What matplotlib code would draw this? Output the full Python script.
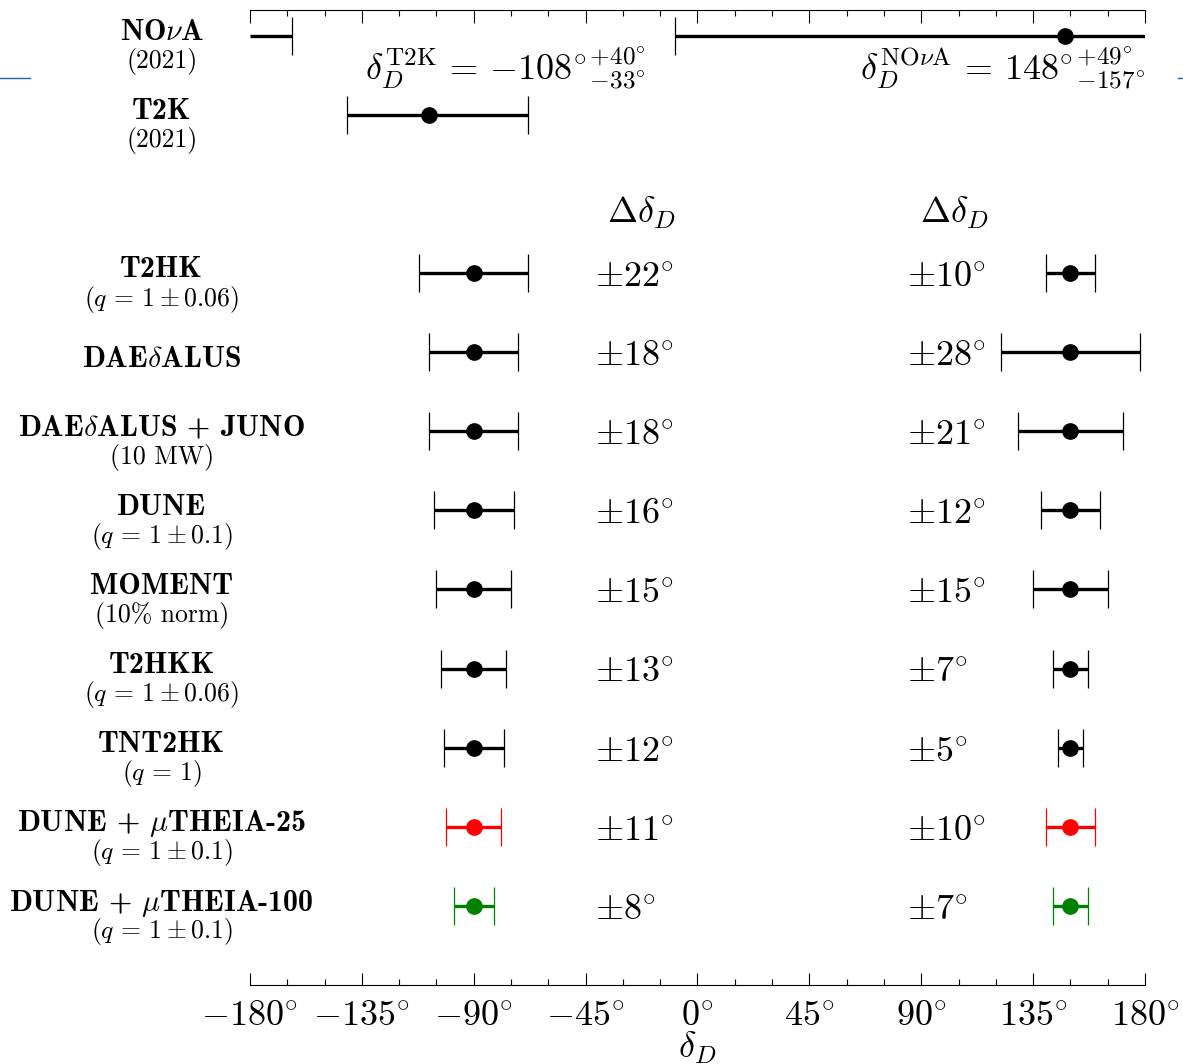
import matplotlib
matplotlib.use("Agg")
import matplotlib.pyplot as plt
from matplotlib.lines import Line2D
from matplotlib.ticker import MultipleLocator, FixedLocator, FixedFormatter

plt.rcParams["mathtext.fontset"] = "cm"
plt.rcParams["axes.unicode_minus"] = False

# Current measurements (row 0 = NOvA, row 1 = T2K)
nova_center, nova_lo, nova_hi = 148, 157, 49
t2k_center, t2k_lo, t2k_hi = -108, 33, 40

# Future experiments
names = [
    "T2HK",
    r"DAE$\delta$ALUS",
    r"DAE$\delta$ALUS + JUNO",
    "DUNE",
    "MOMENT",
    "T2HKK",
    "TNT2HK",
    r"DUNE + $\mu$THEIA-25",
    r"DUNE + $\mu$THEIA-100",
]
subtitles = [
    r"$(q\,=\,1\pm0.06)$",
    "",
    "(10 MW)",
    r"$(q\,=\,1\pm0.1)$",
    "(10% norm)",
    r"$(q\,=\,1\pm0.06)$",
    r"$(q\,=\,1)$",
    r"$(q\,=\,1\pm0.1)$",
    r"$(q\,=\,1\pm0.1)$",
]
left_center = -90
right_center = 150
left_err = [22, 18, 18, 16, 15, 13, 12, 11, 8]
right_err = [10, 28, 21, 12, 15, 7, 5, 10, 7]
colors = ["black"] * 7 + ["red", "green"]
rows = list(range(3, 3 + len(names)))

fig = plt.figure(figsize=(11.83, 10.64), dpi=100)
ax = fig.add_axes([0.2113, 0.0743, 0.7566, 0.9163])

ms = 11
lw = 2.4
cap = 13.7
big = 26

# NOvA with wrap-around past 180
wrap_end = nova_center + nova_hi - 360
ax.plot([nova_center - nova_lo, 180], [0, 0], color="black", lw=lw, solid_capstyle="butt")
ax.plot([-180, wrap_end], [0, 0], color="black", lw=lw, solid_capstyle="butt")
ax.plot([nova_center - nova_lo, wrap_end], [0, 0], ls="none", marker="|",
        ms=2 * cap, mew=0.9, color="black")
ax.plot(nova_center, 0, "o", color="black", ms=ms)

# T2K
ax.errorbar(t2k_center, 1, xerr=[[t2k_lo], [t2k_hi]], fmt="o", color="black",
            ms=ms, elinewidth=lw, capsize=cap, capthick=0.9)

for y, el, er, c in zip(rows, left_err, right_err, colors):
    ax.errorbar(left_center, y, xerr=el, fmt="o", color=c, ms=ms,
                elinewidth=lw, capsize=cap, capthick=0.9)
    ax.errorbar(right_center, y, xerr=er, fmt="o", color=c, ms=ms,
                elinewidth=lw, capsize=cap, capthick=0.9)
    ax.text(-41.2, y + 0.05, rf"$\pm{el}^{{\circ}}$", fontsize=big, ha="left", va="center")
    ax.text(84.2, y + 0.05, rf"$\pm{er}^{{\circ}}$", fontsize=big, ha="left", va="center")

# Column headers
ax.text(-36.4, 2.24, r"$\Delta\delta_D$", fontsize=big, ha="left", va="center")
ax.text(89.5, 2.24, r"$\Delta\delta_D$", fontsize=big, ha="left", va="center")

# Measurement annotations
ax.text(-133.7, 0.42,
        r"$\delta_D^{\mathrm{T2K}}\,=\,{-108^{\circ}}{}^{+40^{\circ}}_{-33^{\circ}}$",
        fontsize=big, ha="left", va="center")
ax.text(65.4, 0.42,
        r"$\delta_D^{\mathrm{NO}\nu\mathrm{A}}\,=\,{148^{\circ}}{}^{+49^{\circ}}_{-157^{\circ}}$",
        fontsize=big, ha="left", va="center")

# Row labels
label_x = -215.5
bold = 21.6
small = 18.5
ax.text(label_x, -0.04, r"NO$\nu$A", fontsize=bold, family="cmb10", ha="center", va="center", clip_on=False)
ax.text(label_x, 0.33, "(2021)", fontsize=small, family="cmr10", ha="center", va="center", clip_on=False)
ax.text(label_x, 0.96, "T2K", fontsize=bold, family="cmb10", ha="center", va="center", clip_on=False)
ax.text(label_x, 1.33, "(2021)", fontsize=small, family="cmr10", ha="center", va="center", clip_on=False)
for y, n, s in zip(rows, names, subtitles):
    if s:
        ax.text(label_x, y - 0.04, n, fontsize=bold, family="cmb10", ha="center", va="center", clip_on=False)
        kw = {} if s.startswith("$") else {"family": "cmr10"}
        ax.text(label_x, y + 0.33, s, fontsize=small, ha="center", va="center", clip_on=False, **kw)
    else:
        ax.text(label_x, y + 0.09, n, fontsize=bold, family="cmb10", ha="center", va="center", clip_on=False)

# Axes styling
ax.set_xlim(-180, 180)
ax.set_ylim(12.0, -0.325)
ax.set_yticks([])
ticks = list(range(-180, 181, 45))
ax.xaxis.set_major_locator(FixedLocator(ticks))
ax.xaxis.set_major_formatter(FixedFormatter([rf"${t}^{{\circ}}$" for t in ticks]))
ax.xaxis.set_minor_locator(MultipleLocator(15))
ax.tick_params(axis="x", which="both", direction="in", top=True, bottom=True,
               labeltop=False, labelsize=big, width=0.8, pad=10)
ax.tick_params(axis="x", which="major", length=9)
ax.tick_params(axis="x", which="minor", length=4.5)
ax.spines["left"].set_visible(False)
ax.spines["right"].set_visible(False)
ax.spines["top"].set_linewidth(0.8)
ax.spines["bottom"].set_linewidth(0.8)
ax.set_xlabel(r"$\delta_D$", fontsize=big, labelpad=-2)

# Stray blue marks on the page edges
fig.add_artist(Line2D([0.0, 0.025], [0.927, 0.927], color="#2a5caa", lw=1))
fig.add_artist(Line2D([0.996, 1.0], [0.927, 0.927], color="#2a5caa", lw=1))

fig.savefig("out.png", dpi=100, facecolor="white")
